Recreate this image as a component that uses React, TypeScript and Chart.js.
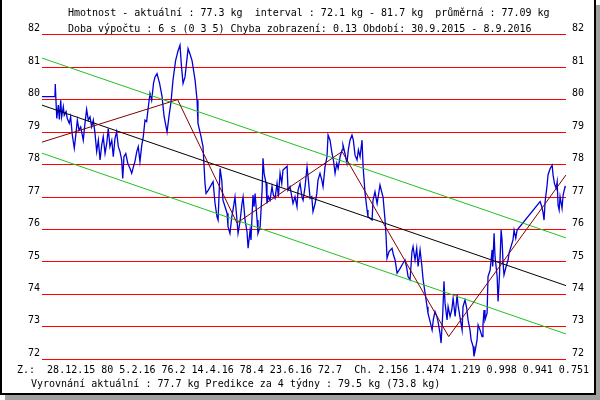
import React, { useEffect, useRef } from "react";
import { Chart, registerables } from "chart.js";

Chart.register(...registerables);

// day offsets from 30.9.2015
const days = [
  0, 8.5, 8.7, 9.7, 10.7, 11.4, 12.3, 12.9, 14.0, 14.6, 15.8, 16.6, 17.9, 18.8, 19.9, 21.2, 22.3, 23.2, 24.3, 25.4,
  27.1, 28.2, 29.3, 30.4, 31.5, 32.6, 33.7, 34.8, 35.9, 37.0, 38.1, 39.2, 40.2, 41.4, 42.5, 43.5, 44.6, 45.8, 46.8, 47.9,
  49.0, 50.1, 51.2, 52.3, 53.0, 53.8, 55.0, 56.3, 57.8, 58.9, 60.0, 61.0, 62.2, 63.2, 64.3, 65.5, 66.5, 67.6, 68.7, 69.8,
  70.9, 72.0, 73.2, 74.2, 75.5, 77.2, 78.8, 80.1, 82.1, 83.4, 84.7, 86.0, 87.7, 89.3, 90.6, 91.6, 92.6, 93.9, 95.9, 97.2,
  98.5, 100.5, 101.8, 102.4, 104.4, 105.7, 107.0, 107.7, 109.2, 112.3, 113.6, 114.9, 115.6, 116.9, 118.0, 118.8, 121.5, 122.1, 123.4, 124.6,
  125.4, 126.7, 128.0, 128.7, 130.0, 131.3, 132.0, 133.3, 134.6, 135.3, 136.6, 137.2, 138.5, 139.2, 139.9, 141.2, 141.8, 143.2, 144.5, 145.1,
  145.8, 147.1, 147.7, 148.6, 149.7, 151.0, 151.9, 153.0, 154.3, 155.2, 156.3, 157.4, 158.2, 160.9, 161.5, 162.8, 164.8, 166.1, 167.4, 168.1,
  169.4, 170.7, 171.4, 172.7, 174.0, 174.9, 176.0, 177.1, 177.9, 179.3, 180.4, 181.2, 182.5, 183.7, 184.5, 185.8, 187.1, 187.8, 189.1, 190.4,
  191.3, 192.4, 193.5, 194.4, 195.7, 197.0, 197.6, 198.9, 200.2, 201.1, 202.2, 203.5, 204.4, 205.5, 206.8, 207.7, 208.8, 210.1, 210.8, 212.1,
  213.4, 214.0, 216.7, 217.3, 218.6, 220.0, 221.9, 223.0, 223.9, 225.2, 225.9, 226.5, 227.8, 229.8, 230.7, 231.8, 233.1, 235.1, 237.0, 238.3,
  239.5, 240.3, 241.6, 242.9, 243.6, 244.9, 246.0, 246.9, 248.2, 249.3, 250.2, 251.5, 252.8, 253.4, 254.8, 256.1, 256.9, 258.0, 259.2, 260.0,
  261.3, 262.0, 263.1, 263.9, 264.6, 265.9, 266.6, 267.9, 269.0, 269.9, 271.2, 272.5, 273.1, 274.5, 275.8, 276.4, 277.7, 278.8, 279.7, 281.0,
  281.7, 283.0, 283.6, 284.5, 285.6, 286.3, 287.6, 288.9, 289.5, 290.2, 290.8, 292.2, 292.8, 294.2, 295.5, 295.9, 296.8, 297.4, 298.8, 299.4,
  300.3, 301.4, 302.0, 302.7, 303.3, 304.7, 306.0, 306.6, 307.9, 309.2, 309.9, 311.0, 311.9, 327.0, 328.1, 329.0, 329.6, 330.3, 331.6, 332.2,
  333.6, 334.9, 335.5, 336.4, 337.5, 338.2, 338.8, 339.5, 340.1, 341.4, 342.1, 343.4, 344.0,
];

const weights = [
  80.09, 80.09, 80.48, 79.42, 79.83, 79.39, 79.98, 79.47, 79.78, 79.52, 79.63, 79.42, 79.27, 79.47, 78.91, 78.5, 78.96, 79.37, 79.06, 79.16,
  78.75, 79.27, 79.7, 79.37, 79.47, 79.16, 79.37, 78.96, 78.4, 78.75, 78.14, 78.6, 78.86, 78.34, 78.65, 79.11, 78.55, 78.75, 78.24, 78.8,
  79.01, 78.55, 78.4, 78.14, 77.57, 78.24, 78.34, 78.04, 77.88, 77.73, 77.93, 78.09, 78.4, 78.55, 78.09, 78.6, 78.86, 79.37, 79.32, 79.78,
  80.19, 79.98, 80.5, 80.7, 80.8, 80.5, 80.1, 79.5, 79.0, 79.5, 79.93, 80.6, 81.2, 81.5, 81.68, 81.0, 80.5, 80.7, 81.57, 81.4,
  81.2, 80.6, 79.98, 79.27, 78.86, 78.55, 77.42, 77.11, 77.21, 77.47, 76.8, 76.39, 76.29, 77.88, 77.52, 76.9, 76.5, 76.09, 75.88, 76.39,
  76.6, 77.0, 76.29, 75.88, 76.24, 76.8, 77.0, 76.29, 75.93, 75.42, 75.98, 75.68, 77.06, 76.7, 77.11, 76.29, 75.88, 76.09, 77.21, 78.19,
  77.73, 77.42, 76.8, 77.01, 76.9, 77.32, 77.06, 76.96, 77.42, 77.01, 77.73, 77.42, 77.83, 77.95, 77.21, 77.32, 76.8, 77.01, 76.7, 77.21,
  77.42, 77.0, 76.9, 77.32, 77.93, 77.52, 76.96, 77.01, 76.55, 76.8, 77.11, 77.52, 77.73, 77.52, 77.32, 77.93, 78.24, 78.91, 78.75, 78.34,
  78.14, 77.73, 78.04, 77.88, 78.24, 78.45, 78.6, 78.34, 78.04, 78.45, 78.75, 78.91, 78.75, 78.29, 78.14, 78.45, 78.24, 78.75, 77.93, 77.11,
  76.6, 76.39, 76.29, 76.9, 77.16, 76.8, 77.37, 77.16, 77.0, 76.29, 75.78, 75.11, 75.32, 75.42, 75.22, 75.06, 74.65, 74.8, 74.96, 75.06,
  74.8, 74.55, 74.45, 75.32, 75.47, 75.06, 75.42, 74.86, 75.37, 74.91, 74.45, 74.04, 73.62, 73.42, 73.16, 72.9, 73.22, 73.47, 73.32, 73.16,
  72.8, 72.5, 73.42, 74.4, 73.73, 73.21, 73.62, 73.32, 73.52, 73.88, 73.32, 73.99, 73.68, 73.27, 72.9, 73.62, 73.83, 73.58, 73.21, 72.9,
  72.6, 72.4, 72.09, 72.3, 72.6, 73.06, 72.9, 72.7, 73.06, 73.52, 73.21, 73.42, 74.55, 74.75, 75.37, 74.86, 75.88, 75.17, 74.55, 73.78,
  74.55, 75.98, 75.68, 74.96, 74.6, 74.86, 75.06, 75.27, 75.47, 75.68, 75.98, 75.73, 75.98, 76.86, 76.7, 76.5, 76.29, 76.86, 77.37, 77.68,
  77.88, 77.98, 77.68, 77.42, 77.27, 77.47, 76.75, 76.6, 77.01, 76.65, 77.06, 77.32, 77.3,
];

// regression line and its band (start / end of period)
const trendDays = [0, 344];
const trendValues = [79.83, 74.27];
const upperValues = [81.28, 75.74];
const lowerValues = [78.35, 72.78];

// turning points ("Z.")
const zigzagDays = [0, 89, 128, 197, 267, 344];
const zigzagValues = [78.69, 80.0, 76.2, 78.4, 72.7, 77.68];

const yMin = 72;
const yMax = 82;
const xMax = 344;

const headerLine1 = "Hmotnost - aktuální : 77.3 kg  interval : 72.1 kg - 81.7 kg  průměrná : 77.09 kg";
const headerLine2 = "Doba výpočtu : 6 s (0 3 5) Chyba zobrazení: 0.13 Období: 30.9.2015 - 8.9.2016";
const footerLine1 = "Z.:  28.12.15 80 5.2.16 76.2 14.4.16 78.4 23.6.16 72.7  Ch. 2.156 1.474 1.219 0.998 0.941 0.751";
const footerLine2 = "Vyrovnání aktuální : 77.7 kg Predikce za 4 týdny : 79.5 kg (73.8 kg)";

const FONT = "'DejaVu Sans Mono', monospace";

function pts(xs: number[], ys: number[]) {
  return xs.map((x, i) => ({ x, y: ys[i] }));
}

export default function App() {
  const ref = useRef<HTMLCanvasElement>(null);

  useEffect(() => {
    document.body.style.margin = "0";
    const canvas = ref.current;
    if (!canvas) return;
    const tickFont = { family: FONT, size: 10 };
    const chart = new Chart(canvas, {
      type: "line",
      data: {
        datasets: [
          { data: pts(zigzagDays, zigzagValues), borderColor: "#800000", borderWidth: 1 },
          { data: pts(trendDays, trendValues), borderColor: "#000000", borderWidth: 1 },
          { data: pts(trendDays, upperValues), borderColor: "#22c022", borderWidth: 1 },
          { data: pts(trendDays, lowerValues), borderColor: "#22c022", borderWidth: 1 },
          { data: pts(days, weights), borderColor: "#0000d8", borderWidth: 1.3 },
        ],
      },
      options: {
        animation: false,
        responsive: false,
        layout: { padding: { top: 34.7, bottom: 40.7, left: 0, right: 0 } },
        elements: { point: { radius: 0 }, line: { tension: 0 } },
        plugins: { legend: { display: false }, tooltip: { enabled: false } },
        scales: {
          x: { type: "linear", min: 0, max: xMax, display: false },
          y: {
            position: "left",
            min: yMin,
            max: yMax,
            ticks: { stepSize: 1, padding: 2, labelOffset: -6, color: "#000", font: tickFont },
            grid: { color: "#ff0000", lineWidth: 1, drawTicks: false },
            border: { display: false },
            afterFit: (s: any) => {
              s.width = 42;
            },
          },
          y2: {
            position: "right",
            min: yMin,
            max: yMax,
            ticks: { stepSize: 1, padding: 6, labelOffset: -6, color: "#000", font: tickFont },
            grid: { display: false, drawTicks: false },
            border: { display: false },
            afterFit: (s: any) => {
              s.width = 34;
            },
          },
        },
      },
    } as any);
    return () => chart.destroy();
  }, []);

  const textStyle: React.CSSProperties = {
    position: "absolute",
    fontFamily: FONT,
    fontSize: "10px",
    lineHeight: "12px",
    whiteSpace: "pre",
    color: "#000",
  };

  return (
    <div style={{ position: "relative", width: 600, height: 400, background: "#fff", overflow: "hidden" }}>
      <div style={{ position: "absolute", left: 5, top: 5, width: 595, height: 395, background: "#a0a0a0" }} />
      <div
        style={{
          position: "absolute",
          left: 0,
          top: 0,
          width: 596,
          height: 395,
          boxSizing: "border-box",
          background: "#fff",
          borderLeft: "2px solid #000",
          borderRight: "2px solid #000",
          borderBottom: "2px solid #000",
        }}
      />
      <canvas ref={ref} width={600} height={400} style={{ position: "absolute", left: 0, top: 0 }} />
      <div style={{ ...textStyle, left: 68, top: 7 }}>{headerLine1}</div>
      <div style={{ ...textStyle, left: 68, top: 23 }}>{headerLine2}</div>
      <div style={{ ...textStyle, left: 17, top: 364 }}>{footerLine1}</div>
      <div style={{ ...textStyle, left: 31, top: 378 }}>{footerLine2}</div>
    </div>
  );
}
